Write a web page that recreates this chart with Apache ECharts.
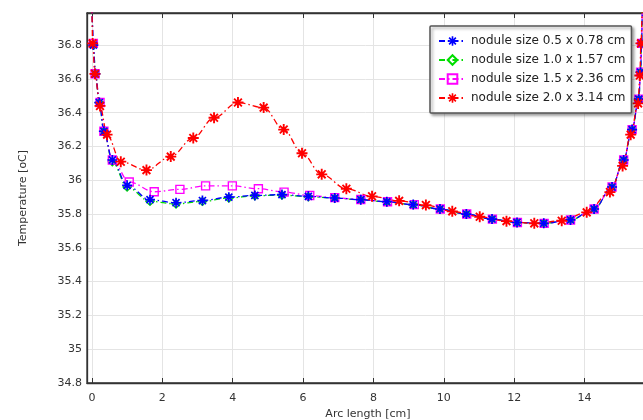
<!DOCTYPE html>
<html>
<head>
<meta charset="utf-8">
<script src="https://cdn.jsdelivr.net/npm/echarts@6/dist/echarts.min.js"></script>
<style>
  html, body { margin: 0; padding: 0; background: #fff; }
  #chart { width: 643px; height: 420px; }
</style>
</head>
<body>
<div id="chart"></div>
<script>
// curve ends (no marker), arc length 0 and end of the cut line
var endX = [0, 15.64];
var endY = [37.05, 37.05];

var blueX = [0.04, 0.10, 0.21, 0.34, 0.58, 1.00, 1.65, 2.39, 3.14, 3.89, 4.63, 5.40, 6.15, 6.90, 7.64, 8.38, 9.13, 9.89, 10.64, 11.37, 12.08, 12.84, 13.60, 14.27, 14.78, 15.11, 15.35, 15.54, 15.59, 15.62];
var blueY = [36.80, 36.63, 36.46, 36.29, 36.12, 35.97, 35.885, 35.867, 35.88, 35.90, 35.91, 35.915, 35.905, 35.895, 35.885, 35.873, 35.856, 35.83, 35.80, 35.77, 35.75, 35.745, 35.765, 35.83, 35.96, 36.12, 36.30, 36.48, 36.64, 36.81];

var greenX = [0.04, 0.10, 0.21, 0.34, 0.58, 1.00, 1.65, 2.39, 3.14, 3.89, 4.63, 5.40, 6.15, 6.90, 7.64, 8.38, 9.13, 9.89, 10.64, 11.37, 12.08, 12.84, 13.60, 14.27, 14.78, 15.11, 15.35, 15.54, 15.59, 15.62];
var greenY = [36.80, 36.63, 36.46, 36.29, 36.11, 35.96, 35.875, 35.86, 35.875, 35.895, 35.908, 35.912, 35.903, 35.894, 35.884, 35.872, 35.855, 35.83, 35.80, 35.77, 35.75, 35.745, 35.765, 35.83, 35.96, 36.12, 36.30, 36.48, 36.64, 36.81];

var magentaX = [0.04, 0.09, 0.23, 0.34, 0.58, 1.06, 1.77, 2.50, 3.23, 3.99, 4.73, 5.46, 6.19, 6.90, 7.64, 8.40, 9.16, 9.90, 10.65, 11.38, 12.09, 12.85, 13.60, 14.27, 14.78, 15.11, 15.35, 15.54, 15.59, 15.62];
var magentaY = [36.81, 36.63, 36.46, 36.29, 36.12, 35.99, 35.932, 35.946, 35.967, 35.967, 35.95, 35.93, 35.91, 35.897, 35.886, 35.873, 35.856, 35.83, 35.80, 35.77, 35.75, 35.745, 35.765, 35.83, 35.96, 36.12, 36.30, 36.48, 36.64, 36.81];

var redX = [0.02, 0.085, 0.23, 0.43, 0.82, 1.55, 2.24, 2.88, 3.47, 4.15, 4.88, 5.45, 5.97, 6.53, 7.23, 7.96, 8.73, 9.49, 10.24, 11.02, 11.78, 12.57, 13.35, 14.06, 14.72, 15.08, 15.31, 15.52, 15.57, 15.60];
var redY = [36.81, 36.63, 36.44, 36.27, 36.11, 36.06, 36.14, 36.25, 36.37, 36.46, 36.43, 36.30, 36.16, 36.035, 35.95, 35.905, 35.878, 35.853, 35.816, 35.784, 35.758, 35.745, 35.76, 35.81, 35.93, 36.085, 36.27, 36.455, 36.62, 36.81];

var names = ['nodule size 0.5 x 0.78 cm', 'nodule size 1.0 x 1.57 cm', 'nodule size 1.5 x 2.36 cm', 'nodule size 2.0 x 3.14 cm'];

var font = 'DejaVu Sans';

// asterisk marker built from thin bars
function starPath(bars, h) {
    var d = '';
    for (var k = 0; k < bars; k++) {
        var a = Math.PI * k / bars;
        var c = Math.cos(a), s = Math.sin(a);
        var pts = [[-1, -h], [1, -h], [1, h], [-1, h]].map(function (p) {
            return (p[0] * c - p[1] * s).toFixed(3) + ' ' + (p[0] * s + p[1] * c).toFixed(3);
        });
        d += 'M' + pts[0] + 'L' + pts[1] + 'L' + pts[2] + 'L' + pts[3] + 'Z';
    }
    return 'path://' + d;
}
var star = starPath(4, 0.17);

function makeData(xs, ys) {
    var data = [{ value: [endX[0], endY[0]], symbol: 'none' }];
    for (var i = 0; i < xs.length; i++) data.push([xs[i], ys[i]]);
    data.push({ value: [endX[1], endY[1]], symbol: 'none' });
    return data;
}

function makeSeries(name, xs, ys, color, symbol, size, hollow) {
    return {
        name: name,
        type: 'line',
        data: makeData(xs, ys),
        smooth: 0.35,
        smoothMonotone: 'x',
        symbol: symbol,
        symbolSize: size,
        showAllSymbol: true,
        lineStyle: { color: color, width: 1.3, type: [6, 3, 1.5, 3] },
        itemStyle: hollow ? { color: 'rgba(255,255,255,0)', borderColor: color, borderWidth: 1.4 } : { color: color, borderWidth: 0 },
        emphasis: { disabled: true }
    };
}

var chart = echarts.init(document.getElementById('chart'));

var option = {
    animation: false,
    backgroundColor: '#fff',
    grid: {
        left: 87,
        right: -6,
        top: 13,
        bottom: 37,
        outerBoundsMode: 'none',
        show: true,
        borderColor: '#333',
        borderWidth: 1.3
    },
    legend: {
        orient: 'vertical',
        left: 430,
        top: 26,
        padding: [9, 6, 9, 8],
        itemGap: 7,
        itemWidth: 27,
        itemHeight: 12,
        backgroundColor: '#fff',
        borderColor: '#555',
        borderWidth: 1.5,
        borderRadius: 1,
        shadowColor: 'rgba(0,0,0,0.35)',
        shadowBlur: 3,
        shadowOffsetX: 2,
        shadowOffsetY: 2,
        textStyle: { fontFamily: font, fontSize: 12, color: '#222' },
        data: names
    },
    xAxis: [{
        type: 'value',
        min: -0.14,
        max: 15.83,
        splitNumber: 8,
        name: 'Arc length [cm]',
        nameLocation: 'middle',
        nameGap: 23,
        nameTextStyle: { fontFamily: font, fontSize: 11, color: '#333' },
        axisLine: { show: true, onZero: false, lineStyle: { color: '#333', width: 1.3 } },
        axisTick: { show: true, inside: true, length: 5, lineStyle: { color: '#333' } },
        axisLabel: { fontFamily: font, fontSize: 11, color: '#333', margin: 10, showMinLabel: false, showMaxLabel: false },
        splitLine: { show: true, lineStyle: { color: '#e4e4e4', width: 1 } }
    }, {
        type: 'value',
        position: 'top',
        min: -0.14,
        max: 15.83,
        splitNumber: 8,
        axisLine: { show: true, onZero: false, lineStyle: { color: '#333', width: 1.3 } },
        axisTick: { show: true, inside: true, length: 5, lineStyle: { color: '#333' } },
        axisLabel: { show: false },
        splitLine: { show: false }
    }],
    yAxis: {
        type: 'value',
        min: 34.8,
        max: 36.99,
        interval: 0.2,
        name: 'Temperature [oC]',
        nameLocation: 'middle',
        nameGap: 58,
        nameTextStyle: { fontFamily: font, fontSize: 11, color: '#333' },
        axisLine: { show: true, onZero: false, lineStyle: { color: '#333', width: 1.3 } },
        axisTick: { show: false },
        axisLabel: { fontFamily: font, fontSize: 11, color: '#333', margin: 5, showMaxLabel: false },
        splitLine: { show: true, lineStyle: { color: '#e4e4e4', width: 1 } }
    },
    // drawn back to front: green, magenta, blue, red
    series: [
        makeSeries(names[1], greenX, greenY, '#00dd00', 'diamond', 8, true),
        makeSeries(names[2], magentaX, magentaY, '#ff00ff', 'rect', 8, true),
        makeSeries(names[0], blueX, blueY, '#0000ff', star, 10, false),
        makeSeries(names[3], redX, redY, '#ff0000', star, 11, false)
    ]
};

chart.setOption(option);
</script>
</body>
</html>
